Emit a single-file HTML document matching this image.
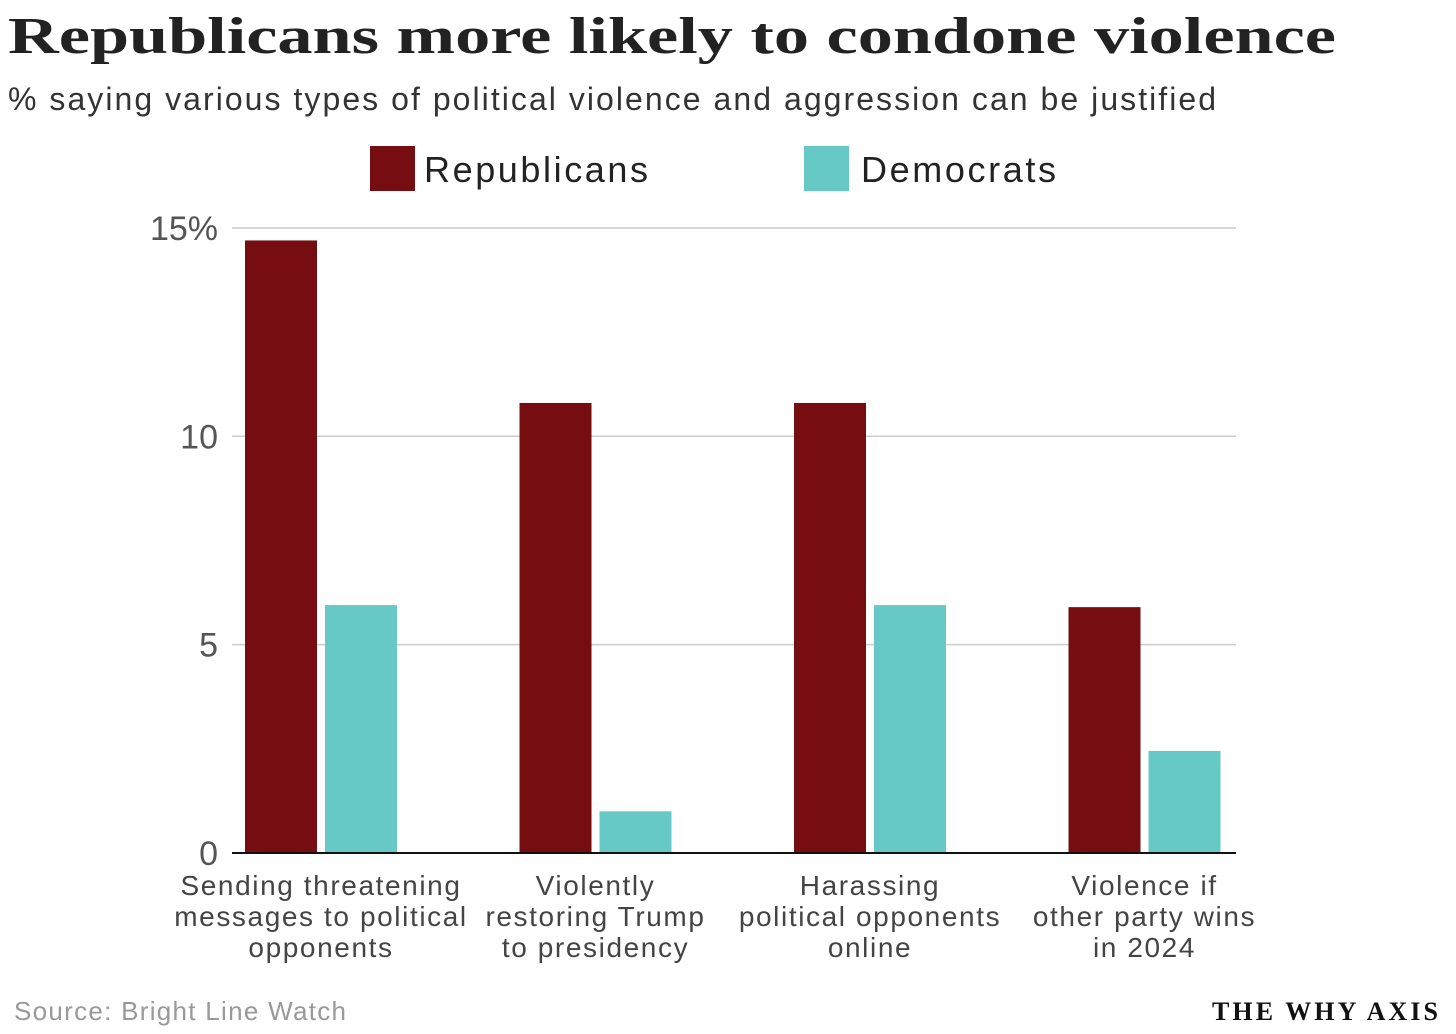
<!DOCTYPE html>
<html><head><meta charset="utf-8"><style>
body{margin:0;background:#fff;width:1456px;height:1029px;overflow:hidden;font-family:"Liberation Sans",sans-serif}
</style></head><body>
<svg id="c" width="1456" height="1029" xmlns="http://www.w3.org/2000/svg">
<text x="8" y="53" font-family="Liberation Serif,serif" font-weight="bold" font-size="52" fill="#222" textLength="1328" lengthAdjust="spacingAndGlyphs">Republicans more likely to condone violence</text>
<text x="8" y="110" font-size="32" fill="#333" textLength="1208" lengthAdjust="spacing">% saying various types of political violence and aggression can be justified</text>
<rect x="370" y="146" width="45" height="45" fill="#760d10"/>
<text x="424" y="182" font-size="36" fill="#222" textLength="224" lengthAdjust="spacing">Republicans</text>
<rect x="804" y="146" width="45" height="45" fill="#66c9c5"/>
<text x="861" y="182" font-size="36" fill="#222" textLength="195" lengthAdjust="spacing">Democrats</text>
<g id="grid"></g><g id="bars"></g><g id="labels"></g>
<line x1="232" x2="1236" y1="853" y2="853" stroke="#111" stroke-width="2"/>
<text x="14" y="1020" font-size="26" fill="#999" textLength="332" lengthAdjust="spacing">Source: Bright Line Watch</text>
<text x="1212" y="1020" font-family="Liberation Serif,serif" font-weight="bold" font-size="26" fill="#111" textLength="226" lengthAdjust="spacing">THE WHY AXIS</text>
</svg>
<script>
const categories=[["Sending threatening","messages to political","opponents"],["Violently","restoring Trump","to presidency"],["Harassing","political opponents","online"],["Violence if","other party wins","in 2024"]];
const republicans=[14.7,10.8,10.8,5.9];
const democrats=[5.95,1.0,5.95,2.45];
const ticks=[0,5,10,15];
const tickLabels=["0","5","10","15%"];
const NS="http://www.w3.org/2000/svg";
const y=v=>853-v*41.67;
const cx=i=>321+i*274.5;
function mk(t,a,p){const e=document.createElementNS(NS,t);for(const k in a)e.setAttribute(k,a[k]);p.appendChild(e);return e;}
const g=document.getElementById('grid'),b=document.getElementById('bars'),l=document.getElementById('labels');
ticks.forEach((t,i)=>{
 if(t>0){const ln=mk('line',{x1:232,x2:1236,y1:y(t),y2:y(t),stroke:'#ccc','stroke-width':1.5},g);
 
 }
 const tx=mk('text',{x:218,y:y(t)+12,'text-anchor':'end','font-size':34,fill:'#555'},g);
 tx.textContent=tickLabels[i];
 
 
});
categories.forEach((c,i)=>{
 const r=mk('rect',{x:cx(i)-76,y:y(republicans[i]),width:72,height:853-y(republicans[i]),fill:'#760d10'},b);
 
 
 const d=mk('rect',{x:cx(i)+4,y:y(democrats[i]),width:72,height:853-y(democrats[i]),fill:'#66c9c5'},b);
 
 
 c.forEach((line,j)=>{
  const t=mk('text',{x:cx(i),y:895+j*31,'text-anchor':'middle','font-size':28,fill:'#444','letter-spacing':1.6},l);
  t.textContent=line;
  
  
 });
});
</script>
</body></html>
